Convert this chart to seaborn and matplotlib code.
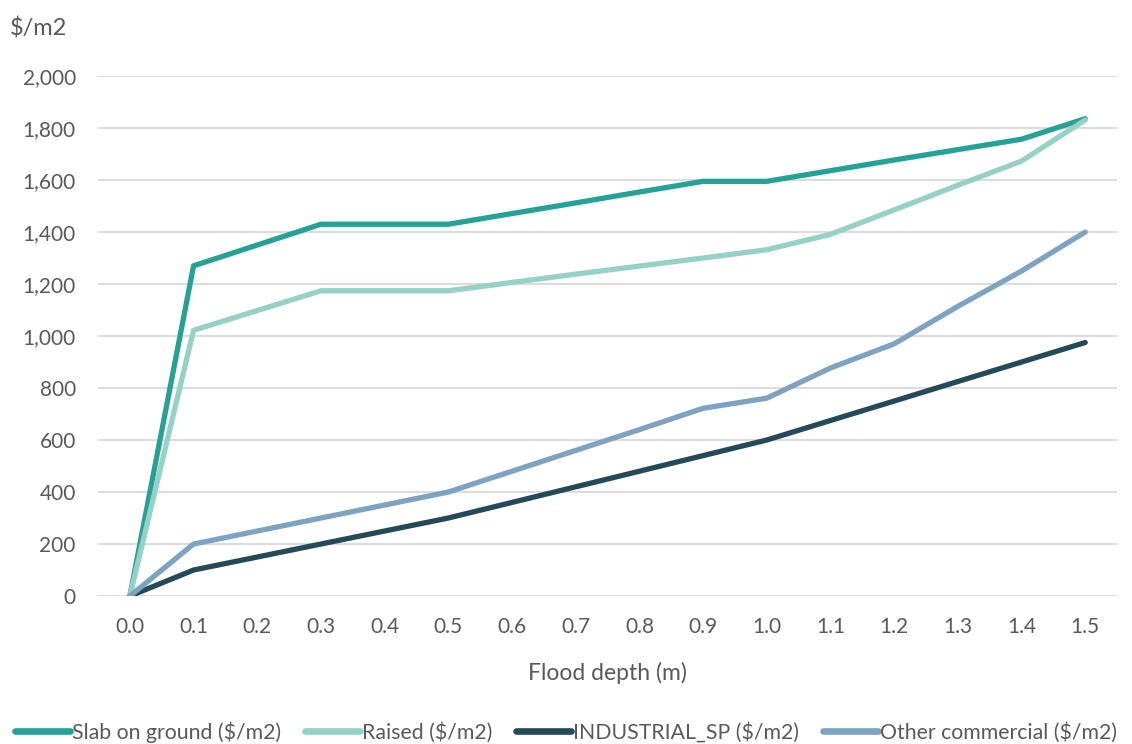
import matplotlib
matplotlib.use('Agg')
import matplotlib.pyplot as plt
import seaborn as sns
import pandas as pd

# flood depth categories (m)
depths = ['0.0', '0.1', '0.2', '0.3', '0.4', '0.5', '0.6', '0.7',
          '0.8', '0.9', '1.0', '1.1', '1.2', '1.3', '1.4', '1.5']

# damage values ($/m2)
slab = [0, 1270, 1350, 1430, 1430, 1430, 1471, 1512, 1554, 1595, 1595, 1636, 1677, 1717, 1757, 1836]
raised = [0, 1022, 1098, 1174, 1174, 1174, 1206, 1238, 1269, 1300, 1332, 1391, 1485, 1580, 1673, 1831]
industrial = [0, 100, 150, 200, 250, 300, 360, 420, 480, 540, 600, 675, 750, 825, 900, 975]
other_commercial = [0, 200, 250, 300, 350, 400, 480, 560, 640, 722, 761, 877, 970, 1114, 1250, 1400]

series_names = ['Slab on ground ($/m2)', 'Raised ($/m2)', 'INDUSTRIAL_SP ($/m2)', 'Other commercial ($/m2)']
colors = ['#26a197', '#95d1c4', '#244a5a', '#7ea3c2']

rows = []
for name, vals in zip(series_names, [slab, raised, industrial, other_commercial]):
    for i, v in enumerate(vals):
        rows.append({'pos': i, 'depth': depths[i], 'value': v, 'series': name})
df = pd.DataFrame(rows)

sns.set_style('white')
plt.rcParams['font.family'] = ['Lato', 'DejaVu Sans']
text_color = '#595959'
fs = 15

fig = plt.figure(figsize=(11.32, 7.44), dpi=100)
ax = fig.add_axes([0.0866, 0.1989, 0.9002, 0.6989])

sns.lineplot(data=df, x='pos', y='value', hue='series', palette=colors,
             hue_order=series_names, linewidth=3.8, ax=ax, legend=False,
             solid_capstyle='round', solid_joinstyle='round')

ax.set_xlim(-0.5, len(depths) - 0.5)
ax.set_ylim(0, 2000)
ax.set_xticks(range(len(depths)))
ax.set_xticklabels(depths)
ax.set_yticks(range(0, 2001, 200))
ax.set_yticklabels([f'{v:,}' for v in range(0, 2001, 200)])
ax.tick_params(axis='both', length=0, labelsize=fs, colors=text_color)
ax.tick_params(axis='x', pad=15)
ax.tick_params(axis='y', pad=16)
ax.grid(axis='y', color='#d9d9d9', linewidth=1.3)
ax.set_axisbelow(True)
for s in ax.spines.values():
    s.set_visible(False)

ax.set_xlabel('Flood depth (m)', fontsize=16.5, color=text_color, labelpad=18)
ax.set_ylabel('')
fig.text(0.009, 0.962, '$/m2', fontsize=17, color=text_color, ha='left', va='center')

handles = [plt.Line2D([0], [0], color=c, linewidth=4.8, solid_capstyle='round') for c in colors]
fig.legend(handles, series_names, loc='lower center', bbox_to_anchor=(0.5, -0.024), ncol=4,
           frameon=False, fontsize=15.3, handlelength=2.6, handletextpad=0.1,
           columnspacing=1.1, labelcolor=text_color)

fig.savefig('out.png', dpi=100)
